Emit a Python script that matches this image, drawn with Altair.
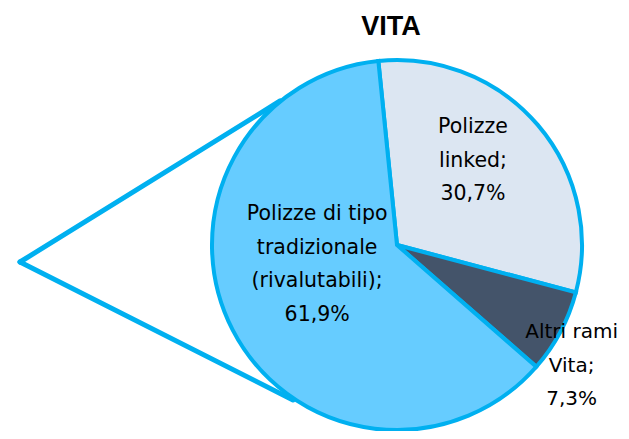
import math
import altair as alt
import pandas as pd

# ---- data -------------------------------------------------------------
categories = ["Polizze linked", "Altri rami Vita", "Polizze di tipo tradizionale (rivalutabili)"]
label_lines = [["Polizze", "linked;"], ["Altri rami", "Vita;"], ["Polizze di tipo", "tradizionale", "(rivalutabili);"]]
values = [30.7, 7.3, 61.9]
colors = ["#dce6f2", "#44546a", "#66ccff"]
title_text = "VITA"

def fmt(v):
    return f"{v:.1f}".replace(".", ",") + "%"

df = pd.DataFrame({
    "categoria": categories,
    "valore": values,
    "ordine": list(range(len(categories))),
    "etichetta": ["\n".join(l + [fmt(v)]) for l, v in zip(label_lines, values)],
})

total = sum(values)
start = -0.101
theta_scale = alt.Scale(domain=[0, total], range=[start, start + 2 * math.pi])
color_scale = alt.Scale(domain=categories, range=colors)

W, H = 448, 372
PAD = {"left": 165, "top": 51, "right": 0, "bottom": 0}
edge = "#00b0f0"
LH = 33.5

base = alt.Chart(df)

# connector lines (drawn under the pie)
conn_df = pd.DataFrame({"k": [0]})
line_top = alt.Chart(conn_df).mark_rule(color=edge, strokeWidth=5, strokeCap="round").encode(
    x=alt.value(-153), y=alt.value(203), x2=alt.value(107), y2=alt.value(42))
line_bot = alt.Chart(conn_df).mark_rule(color=edge, strokeWidth=5, strokeCap="round").encode(
    x=alt.value(-153), y=alt.value(203), x2=alt.value(120), y2=alt.value(341))

pie = base.mark_arc(radius=185, stroke=edge, strokeWidth=4, strokeJoin="miter").encode(
    theta=alt.Theta("valore:Q", stack=True, scale=theta_scale),
    color=alt.Color("categoria:N", scale=color_scale, legend=None),
    order=alt.Order("ordine:Q"),
)

def label_layer(i, radius, dx, dy, size=20.5):
    n_lines = len(label_lines[i]) + 1
    return base.transform_window(
        cum="sum(valore)", sort=[alt.SortField("ordine")]
    ).transform_calculate(
        mid="datum.cum - datum.valore / 2"
    ).transform_filter(
        alt.datum.categoria == categories[i]
    ).mark_text(
        radius=radius, dx=dx, dy=dy - (n_lines - 1) * LH / 2, font="DejaVu Sans", fontSize=size,
        lineHeight=LH, lineBreak="\n", align="center", baseline="middle", color="#000000",
    ).encode(
        theta=alt.Theta("mid:Q", scale=theta_scale),
        text="etichetta:N",
    )

labels = [
    label_layer(0, 113, -10, -11),
    label_layer(1, 217, -17, 19, size=20),
    label_layer(2, 82, -7, -18),
]

chart = alt.layer(line_top, line_bot, pie, *labels).properties(
    width=W, height=H,
    padding=PAD,
    autosize=alt.AutoSizeParams(type="none"),
    title=alt.TitleParams(title_text, font="Liberation Sans", fontSize=27, fontWeight="bold",
                          anchor="middle", dx=-6, offset=11, color="#000000"),
).configure_view(stroke=None)

chart.save("out.html", embed_options={"renderer": "svg", "actions": False})
